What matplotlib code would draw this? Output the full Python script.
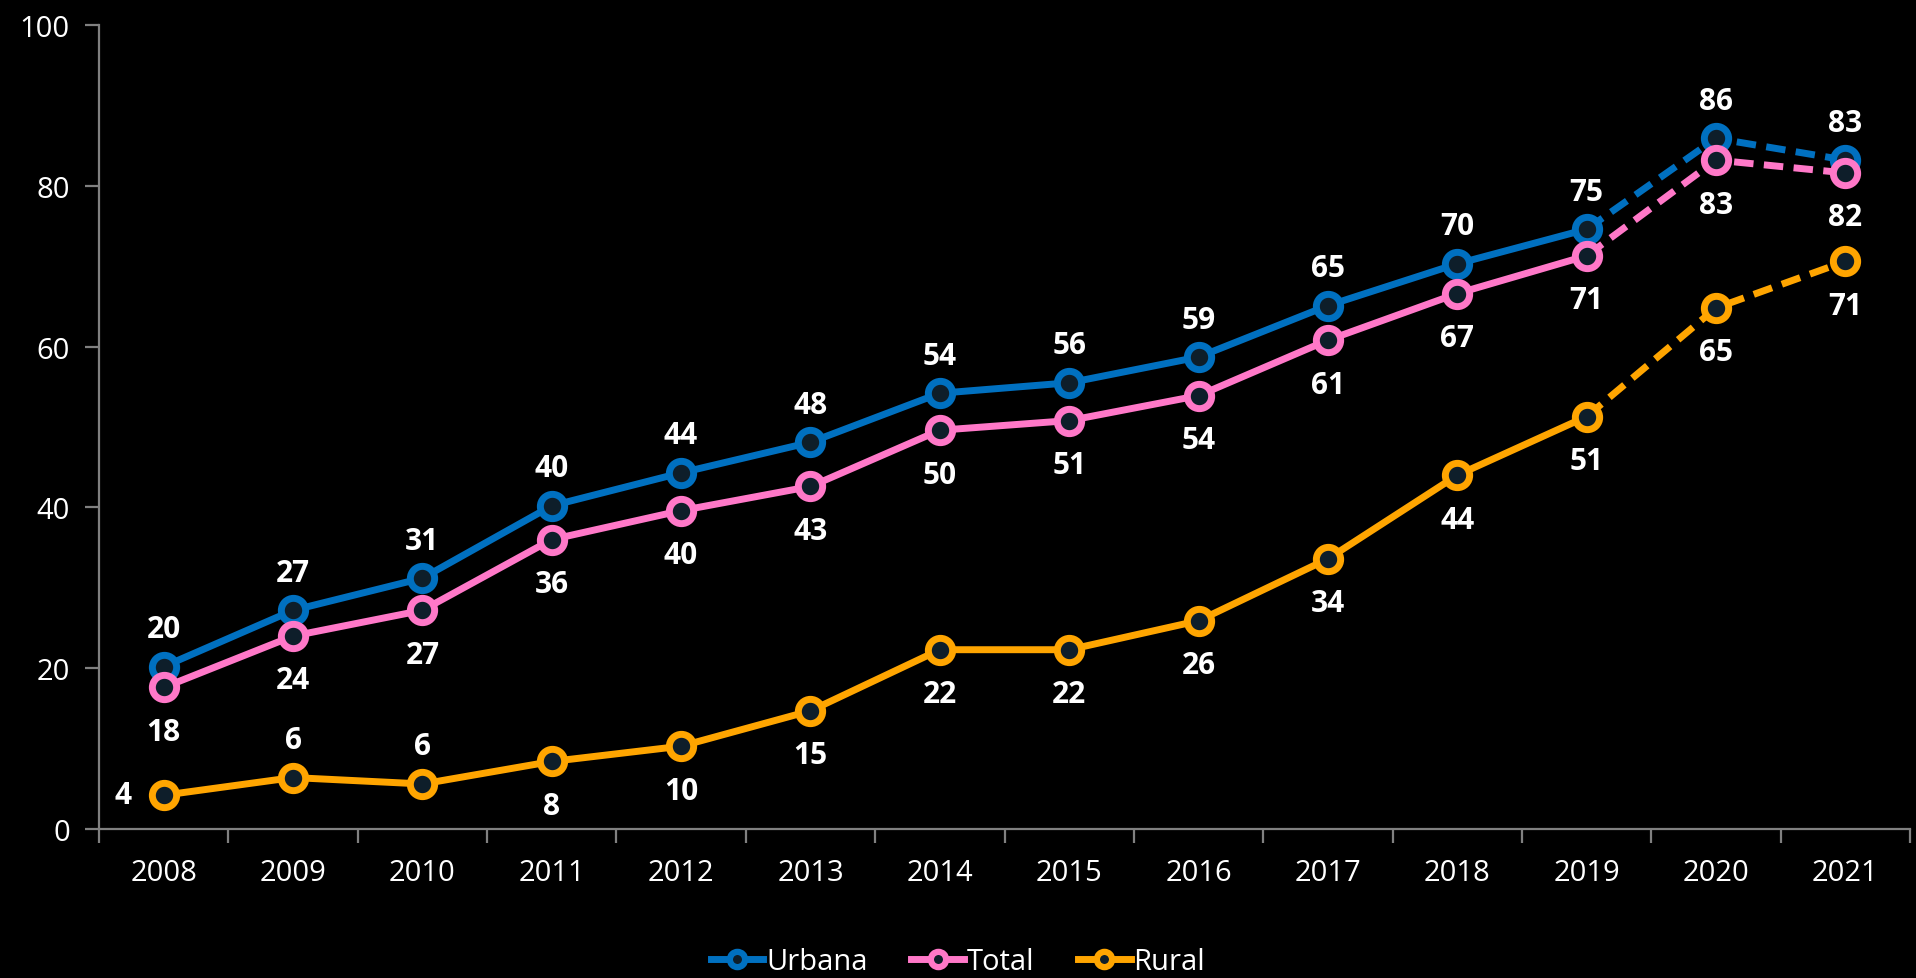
import matplotlib
matplotlib.use("Agg")
import matplotlib.pyplot as plt
from matplotlib.ticker import FixedLocator, NullFormatter
from matplotlib.lines import Line2D

years = ["2008", "2009", "2010", "2011", "2012", "2013", "2014",
         "2015", "2016", "2017", "2018", "2019", "2020", "2021"]
urbana = [20.2, 27.2, 31.2, 40.2, 44.3, 48.1, 54.2, 55.5, 58.7, 65.1, 70.3, 74.6, 85.9, 83.2]
total = [17.6, 24.0, 27.2, 36.0, 39.6, 42.6, 49.6, 50.8, 53.9, 60.8, 66.6, 71.3, 83.2, 81.6]
rural = [4.2, 6.4, 5.6, 8.4, 10.3, 14.7, 22.3, 22.3, 25.9, 33.6, 44.0, 51.3, 64.8, 70.6]
# label placement: 'a' above, 'b' below, 'l' left
urbana_pos = ["a"] * 14
total_pos = ["b"] * 14
rural_pos = ["l", "a", "a"] + ["b"] * 11
solid_until = 11  # index of last year drawn with solid line (2019)

C_URB = "#0070C0"
C_TOT = "#FF78C8"
C_RUR = "#FFA500"
FACE = "#0E1E2A"
AXC = "#808080"
FONT = ["Open Sans", "DejaVu Sans"]

plt.rcParams["font.family"] = FONT

fig = plt.figure(figsize=(19.16, 9.79), dpi=100, facecolor="black")
ax = fig.add_axes([99 / 1916, 1 - 830 / 979, (1910 - 99) / 1916, (830 - 26) / 979])
ax.set_facecolor("black")

x = list(range(len(years)))
lw = 5.0
ms = 17.5
mew = 5.0
dash = (2.8, 1.5)

series = [("Urbana", urbana, C_URB, urbana_pos),
          ("Total", total, C_TOT, total_pos),
          ("Rural", rural, C_RUR, rural_pos)]

for name, vals, col, pos in series:
    ax.plot(x[: solid_until + 1], vals[: solid_until + 1], color=col, lw=lw,
            solid_capstyle="round", zorder=2)
    ax.plot(x[solid_until:], vals[solid_until:], color=col, lw=lw,
            linestyle=(0, dash), zorder=2)
    ax.plot(x, vals, linestyle="none", marker="o", ms=ms, mfc=FACE, mec=col,
            mew=mew, zorder=3)
    for xi, v, p in zip(x, vals, pos):
        if p == "a":
            off = (0, 27)
        elif p == "b":
            off = (0, -32)
        else:
            off = (-29, 0)
        ax.annotate(f"{v:.0f}", (xi, v), xytext=off, textcoords="offset points",
                    ha="center", va="center", color="white", fontsize=21.5,
                    fontweight="bold", zorder=4)

ax.set_xlim(-0.5, len(years) - 0.5)
ax.set_ylim(0, 100)

# x: tick marks at category boundaries, labels at centers
ax.xaxis.set_major_locator(FixedLocator([i - 0.5 for i in range(len(years) + 1)]))
ax.xaxis.set_major_formatter(NullFormatter())
ax.xaxis.set_minor_locator(FixedLocator(x))
ax.set_xticklabels(years, minor=True)
ax.tick_params(axis="x", which="major", length=10, width=1.6, color=AXC, direction="out")
ax.tick_params(axis="x", which="minor", length=0, pad=21, labelsize=21, labelcolor="white")

ax.set_yticks([0, 20, 40, 60, 80, 100])
ax.tick_params(axis="y", length=10, width=1.6, color=AXC, direction="out",
               labelsize=21, labelcolor="white", pad=11)

for s in ["top", "right"]:
    ax.spines[s].set_visible(False)
for s in ["left", "bottom"]:
    ax.spines[s].set_color(AXC)
    ax.spines[s].set_linewidth(1.6)

handles = [Line2D([], [], color=c, lw=lw, marker="o", ms=11, mfc=FACE, mec=c, mew=4.5)
           for _, _, c, _ in series]
leg = fig.legend(handles, [s[0] for s in series], loc="center",
                 bbox_to_anchor=(0.5, 1 - 963 / 979), ncol=3, frameon=False,
                 fontsize=21, handlelength=1.8, handletextpad=0.1, columnspacing=1.5)
for t in leg.get_texts():
    t.set_color("white")

fig.savefig("out.png", dpi=100, facecolor="black")
